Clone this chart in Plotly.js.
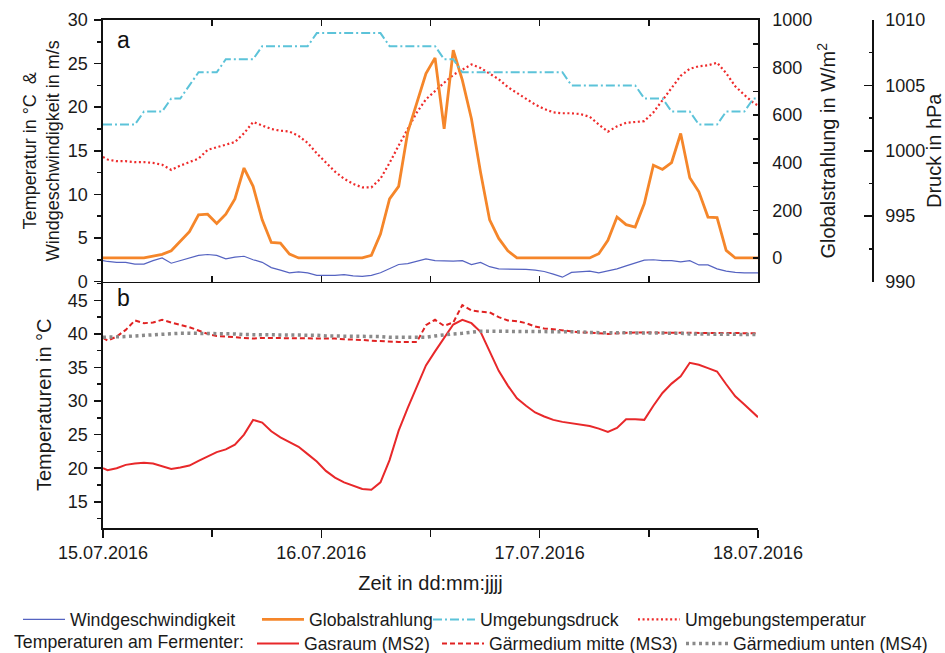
<!DOCTYPE html>
<html>
<head>
<meta charset="utf-8">
<script src="https://cdn.plot.ly/plotly-3.0.1.min.js"></script>
<style>html,body{margin:0;padding:0;background:#fff;}</style>
</head>
<body>
<div id="chart" style="width:945px;height:653px;"></div>
<script>
// hour offsets from 15.07.2016 00:00 (readings at half hours, plus edges)
const hours = [0];
for (let i = 0; i < 72; i++) hours.push(i + 0.5);
hours.push(72);
const startDay = Date.UTC(2016, 6, 15);
const times = hours.map(h => startDay + h * 3600000);

const windSpeed = [2.4,2.3,2.2,2.2,2.0,2.0,2.4,2.7,2.1,2.4,2.7,3.0,3.1,3.0,2.6,2.8,2.9,2.5,2.2,1.6,1.3,1.0,1.1,1.0,0.7,
  0.7,0.7,0.8,0.65,0.6,0.7,1.0,1.5,1.95,2.05,2.3,2.6,2.4,2.35,2.35,2.4,1.95,2.2,1.7,1.45,1.45,1.4,1.4,1.3,
  1.15,0.85,0.5,1.05,1.1,1.2,1.0,1.2,1.45,1.8,2.15,2.45,2.5,2.4,2.4,2.25,2.4,1.9,1.9,1.45,1.2,1.05,1.0,1.0,1.0];

const globalRadiation = [0,0,0,0,0,0,8,15,30,68,110,181,184,145,184,248,378,301,160,65,62,16,
  0,0,0,0,0,0,0,0,11,100,248,301,529,653,775,841,543,873,747,585,360,160,82,30,
  0,0,0,0,0,0,0,0,0,18,74,172,140,130,229,390,372,401,523,337,278,172,170,32,0,0,0,0];

const ambientPressure = [1002,1002,1002,1002,1002,1003,1003,1003,1004,1004,1005,1006,1006,1006,
  1007,1007,1007,1007,1008,1008,1008,1008,1008,1008,1009,1009,1009,1009,1009,1009,1009,1009,
  1008,1008,1008,1008,1008,1008,1007,1007,1006,1006,1006,1006,1006,1006,1006,1006,1006,1006,1006,1006,
  1005,1005,1005,1005,1005,1005,1005,1005,1004,1004,1004,1003,1003,1003,1002,1002,1002,1003,1003,1003,1004,1004];

const ambientTemp = [14.3,14.0,13.8,13.8,13.7,13.7,13.6,13.4,12.8,13.3,13.7,14.1,15.1,15.4,15.7,16.0,17.0,18.3,17.9,17.5,17.3,17.2,16.7,15.9,14.7,
  13.6,12.6,11.8,11.2,10.8,10.8,11.8,13.6,15.6,17.5,19.4,20.9,21.9,22.8,23.7,24.3,24.9,24.5,23.9,23.2,22.3,21.6,20.9,20.3,
  19.8,19.4,19.3,19.3,19.2,18.9,18.0,17.2,17.8,18.2,18.3,18.4,19.4,20.8,22.3,23.6,24.4,24.7,24.8,25.1,23.9,22.4,21.4,20.5,20.2];

const gasraum = [20.0,19.7,20.0,20.5,20.7,20.8,20.7,20.3,19.9,20.1,20.4,21.1,21.8,22.4,22.8,23.5,25.0,27.2,26.8,25.5,24.6,23.9,23.2,22.1,21.0,
  19.6,18.6,17.9,17.4,16.9,16.8,17.9,21.2,25.6,29.0,32.1,35.3,37.4,39.4,41.4,42.1,41.6,40.3,37.4,34.5,32.3,30.4,29.3,28.3,
  27.7,27.2,26.9,26.7,26.5,26.3,25.9,25.4,26.0,27.3,27.3,27.2,29.3,31.2,32.6,33.7,35.7,35.4,34.9,34.4,32.5,30.7,29.5,28.2,27.6];

const medienMitte = [39.4,39.0,39.6,40.6,42.0,41.6,41.7,42.1,41.7,41.4,41.0,40.5,40.0,39.7,39.6,39.5,39.4,39.3,39.4,39.4,39.4,39.4,39.3,39.3,39.3,
  39.3,39.3,39.2,39.2,39.1,39.0,38.9,38.9,38.8,38.8,38.8,41.3,42.1,41.2,41.7,44.3,43.5,43.3,43.2,42.5,42.0,41.9,41.6,41.1,
  40.8,40.7,40.5,40.4,40.2,40.2,40.1,40.0,40.1,40.2,40.2,40.2,40.2,40.1,40.1,40.1,40.1,40.1,40.1,40.1,40.1,40.1,40.1,40.1,40.1];

const medienUnten = [39.5,39.5,39.5,39.6,39.7,39.8,39.9,40.0,40.1,40.1,40.1,40.1,40.1,40.0,40.0,40.0,39.9,39.9,39.9,39.9,39.8,39.8,39.8,39.8,39.8,
  39.7,39.7,39.7,39.6,39.6,39.6,39.6,39.5,39.5,39.5,39.5,39.5,39.7,39.9,40.0,40.1,40.3,40.4,40.4,40.4,40.4,40.4,40.4,40.4,
  40.4,40.3,40.3,40.3,40.3,40.2,40.2,40.2,40.2,40.2,40.1,40.1,40.1,40.1,40.1,40.1,40.0,40.0,40.0,40.0,40.0,40.0,39.9,39.9,39.9];

const seriesNames = ['Windgeschwindigkeit','Globalstrahlung','Umgebungsdruck','Umgebungstemperatur',
  'Gasraum (MS2)','Gärmedium mitte (MS3)','Gärmedium unten (MS4)'];
const legendTitle2 = 'Temperaturen am Fermenter:';
const dayTicks = ['2016-07-15','2016-07-16','2016-07-17','2016-07-18'];

const legFont = {family: 'Liberation Sans, Arial, sans-serif', size: 17.7, color: '#1a1a1a'};

const traces = [
  {x: times, y: windSpeed, xaxis: 'x2', yaxis: 'y2', mode: 'lines', name: seriesNames[0], legend: 'legend',
   line: {color: '#5563c1', width: 1.2}},
  {x: times, y: globalRadiation, xaxis: 'x2', yaxis: 'y3', mode: 'lines', name: seriesNames[1], legend: 'legend2',
   line: {color: '#f5862a', width: 2.8}},
  {x: times, y: ambientPressure, xaxis: 'x2', yaxis: 'y4', mode: 'lines', name: seriesNames[2], legend: 'legend3',
   line: {color: '#5cc3d9', width: 2, dash: '9px,3px,2px,3px'}},
  {x: times, y: ambientTemp, xaxis: 'x2', yaxis: 'y2', mode: 'lines', name: seriesNames[3], legend: 'legend4',
   line: {color: '#ee2a2a', width: 2.2, dash: '2px,2.6px'}},
  {x: times, y: gasraum, xaxis: 'x', yaxis: 'y', mode: 'lines', name: seriesNames[4], legend: 'legend5',
   line: {color: '#e8282a', width: 2}},
  {x: times, y: medienMitte, xaxis: 'x', yaxis: 'y', mode: 'lines', name: seriesNames[5], legend: 'legend6',
   line: {color: '#e02222', width: 2, dash: '5px,3px'}},
  {x: times, y: medienUnten, xaxis: 'x', yaxis: 'y', mode: 'lines', name: seriesNames[6], legend: 'legend7',
   line: {color: '#8a8a8a', width: 3.5, dash: '3px,3.5px'}}
];

const axCol = '#111';
const common = {showgrid: false, zeroline: false, showline: true, linecolor: axCol, linewidth: 1.6,
  tickcolor: axCol, tickwidth: 1.6, tickfont: {size: 18, color: '#1a1a1a'}};
const xDom = [0, 0.8376];
const splitY = 0.4852;
const dayMs = 86400000;

function leg(x, y, extra) {
  return Object.assign({orientation: 'h', x: x, y: y, xanchor: 'left', yanchor: 'middle', visible: true,
    bgcolor: 'rgba(0,0,0,0)', borderwidth: 0, font: legFont, itemwidth: 42, tracegroupgap: 0}, extra || {});
}

const layout = {
  width: 945, height: 653,
  margin: {l: 103, r: 60, t: 20, b: 125, autoexpand: false},
  showlegend: true,
  paper_bgcolor: '#fff', plot_bgcolor: '#fff',
  font: {family: 'Liberation Sans, Arial, sans-serif', size: 18, color: '#1a1a1a'},
  xaxis: Object.assign({}, common, {domain: xDom, anchor: 'y', type: 'date',
    range: [dayTicks[0], dayTicks[3]], tickvals: dayTicks, tickformat: '%d.%m.%Y',
    ticks: 'outside', ticklen: 8,
    minor: {dtick: dayMs / 2, tick0: dayTicks[0], ticks: 'outside', ticklen: 7, tickwidth: 1.6, tickcolor: axCol},
    title: {text: 'Zeit in dd:mm:jjjj', font: {size: 20}, standoff: 14}}),
  xaxis2: Object.assign({}, common, {domain: xDom, anchor: 'y2', type: 'date', matches: 'x',
    side: 'top', ticks: 'inside', ticklen: 6, mirror: 'ticks', showticklabels: false,
    tickvals: dayTicks,
    minor: {dtick: dayMs / 2, tick0: dayTicks[0], ticks: 'inside', ticklen: 6, tickwidth: 1.6, tickcolor: axCol}}),
  xaxis3: Object.assign({}, common, {overlaying: 'x', anchor: 'y', type: 'date', side: 'top',
    range: [dayTicks[0], dayTicks[3]], tickvals: dayTicks, ticks: 'inside', ticklen: 6,
    showticklabels: false, showline: false,
    minor: {dtick: dayMs / 2, tick0: dayTicks[0], ticks: 'inside', ticklen: 6, tickwidth: 1.6, tickcolor: axCol}}),
  yaxis: Object.assign({}, common, {domain: [0, splitY], anchor: 'x', range: [11.1, 47.8],
    tick0: 0, dtick: 5, ticks: 'outside', ticklen: 7, ticklabelstandoff: 3,
    minor: {tick0: 0, dtick: 2.5, ticks: 'outside', ticklen: 4, tickwidth: 1.6, tickcolor: axCol},
    title: {text: 'Temperaturen in °C', font: {size: 20}, standoff: 11}}),
  yaxis5: Object.assign({}, common, {overlaying: 'y', anchor: 'x', side: 'right', range: [11.1, 47.8],
    tick0: 0, dtick: 5, ticks: 'inside', ticklen: 7, showticklabels: false,
    minor: {tick0: 0, dtick: 2.5, ticks: 'inside', ticklen: 4, tickwidth: 1.6, tickcolor: axCol}}),
  yaxis2: Object.assign({}, common, {domain: [splitY, 1], anchor: 'x2', range: [0, 30],
    tick0: 0, dtick: 5, ticks: 'outside', ticklen: 7, ticklabelstandoff: 3,
    minor: {tick0: 0, dtick: 2.5, ticks: 'outside', ticklen: 4, tickwidth: 1.6, tickcolor: axCol},
    title: {text: 'Temperatur in °C\u00a0 &<br>Windgeschwindigkeit in m/s', font: {size: 18}, standoff: 3}}),
  yaxis3: Object.assign({}, common, {overlaying: 'y2', anchor: 'x2', side: 'right', range: [-99, 1000],
    tick0: 0, dtick: 200, ticks: 'inside', ticklen: 5, ticklabelstandoff: 9,
    minor: {tick0: 0, dtick: 100, ticks: 'inside', ticklen: 5, tickwidth: 1.6, tickcolor: axCol},
    title: {text: 'Globalstrahlung in W/m<sup>2</sup>', font: {size: 20}, standoff: 10}}),
  yaxis4: Object.assign({}, common, {overlaying: 'y2', anchor: 'free', position: 0.9834, side: 'right',
    range: [990, 1010], tick0: 990, dtick: 5, ticks: 'inside', ticklen: 8, ticklabelstandoff: 8,
    minor: {tick0: 990, dtick: 2.5, ticks: 'inside', ticklen: 3, tickwidth: 1.6, tickcolor: axCol},
    title: {text: 'Druck in hPa', font: {size: 20}, standoff: 4}}),
  legend: leg(-0.1087, -0.181),
  legend2: leg(0.1969, -0.181),
  legend3: leg(0.4156, -0.181),
  legend4: leg(0.6777, -0.181),
  legend5: leg(-0.1164, -0.2283, {title: {text: legendTitle2, side: 'left', font: legFont}}),
  legend6: leg(0.4271, -0.2283),
  legend7: leg(0.7391, -0.2283),
  annotations: [
    {text: 'a', xref: 'paper', yref: 'paper', x: 0.0256, y: 0.9606, showarrow: false,
     xanchor: 'center', yanchor: 'middle', font: {size: 23, color: '#111'}},
    {text: 'b', xref: 'paper', yref: 'paper', x: 0.0256, y: 0.4528, showarrow: false,
     xanchor: 'center', yanchor: 'middle', font: {size: 23, color: '#111'}}
  ]
};

Plotly.newPlot('chart', traces, layout, {displayModeBar: false, staticPlot: true});
</script>
</body>
</html>
